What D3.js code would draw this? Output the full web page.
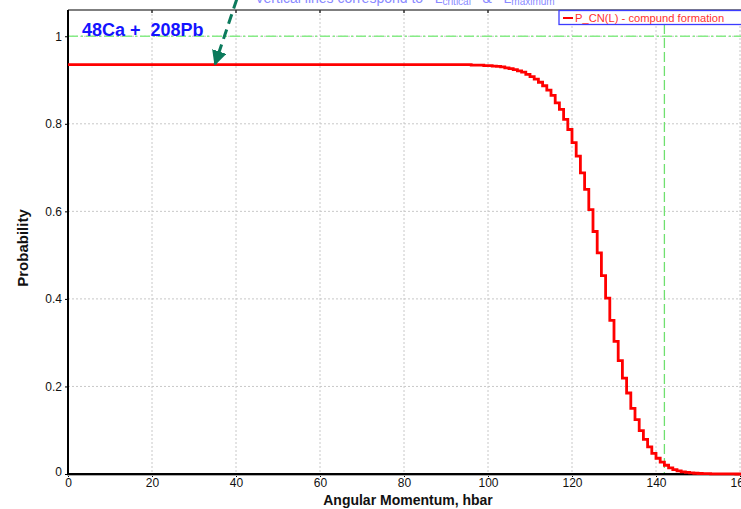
<!DOCTYPE html>
<html>
<head>
<meta charset="utf-8">
<script src="https://cdn.jsdelivr.net/npm/d3@7"></script>
<style>
  body { margin: 0; background: #fff; }
  svg { display: block; font-family: "Liberation Sans", Arial, sans-serif; }
  .pre { white-space: pre; }
</style>
</head>
<body>
<div id="chart"></div>
<script>
// angular momentum L (hbar) and compound formation probability
let momentum = [0, 96, 99, 100, 101, 102, 103, 104, 105, 106, 107, 108, 109, 110, 111, 112, 113, 114, 115, 116, 117,
  118, 119, 120, 121, 122, 123, 124, 125, 126, 127, 128, 129, 130, 131, 132, 133, 134, 135, 136, 137, 138, 139,
  140, 141, 142, 143, 144, 145, 146, 147, 148, 149, 150, 151, 153, 156, 159, 165]
let probability = [0.935, 0.934, 0.933, 0.933, 0.932, 0.931, 0.930, 0.928, 0.926, 0.924, 0.921, 0.918, 0.913, 0.908, 0.902, 0.895, 0.887, 0.877, 0.865, 0.848, 0.833,
  0.810, 0.787, 0.757, 0.726, 0.688, 0.650, 0.604, 0.554, 0.505, 0.453, 0.402, 0.351, 0.303, 0.259, 0.219, 0.185, 0.150, 0.124, 0.099, 0.079, 0.062, 0.047,
  0.036, 0.027, 0.020, 0.014, 0.010, 0.007, 0.005, 0.0035, 0.0025, 0.0017, 0.0012, 0.0008, 0.0004, 0.0001, 0, 0]

let xTicks = [0, 20, 40, 60, 80, 100, 120, 140, 160]
let yTicks = [0, 0.2, 0.4, 0.6, 0.8, 1]
let yTickLabels = ["0", "0.2", "0.4", "0.6", "0.8", "1"]

let lCritical = 142
let maxLevel = 1
let reactionLabel = "48Ca +  208Pb"
let legendLabel = "P_CN(L) - compund formation"
let noteLabel = "Vertical lines correspond to   L"
// arrow annotation in data units [L, P]
let arrowFrom = [40.2, 1.085]
let arrowTo = [35, 0.936]

let width = 741
let height = 509
let margin = {left: 68, top: 10, bottom: 35}

let x = d3.scaleLinear().domain([0, 160]).range([margin.left, margin.left + 672])
let y = d3.scaleLinear().domain([0, 1.06]).range([height - margin.bottom, margin.top])

let svg = d3.select("#chart").append("svg")
  .attr("width", width)
  .attr("height", height)

let defs = svg.append("defs")
defs.append("marker")
  .attr("id", "arrowhead")
  .attr("viewBox", "0 0 10 10")
  .attr("refX", 9)
  .attr("refY", 5)
  .attr("markerWidth", 5)
  .attr("markerHeight", 5)
  .attr("markerUnits", "strokeWidth")
  .attr("orient", "auto")
  .append("path")
  .attr("d", "M0,0 L10,5 L0,10 Z")
  .attr("fill", "#0b7a5c")

let x0 = margin.left
let x1 = width + 30
let yTop = margin.top
let yBottom = height - margin.bottom

// grid
svg.append("g")
  .selectAll("line")
  .data(xTicks.filter(d => d > 0))
  .enter().append("line")
  .attr("x1", d => x(d)).attr("x2", d => x(d))
  .attr("y1", yTop).attr("y2", yBottom)
  .attr("stroke", "#c8c8c8")
  .attr("stroke-dasharray", "2,2")

svg.append("g")
  .selectAll("line")
  .data(yTicks.filter(d => d > 0))
  .enter().append("line")
  .attr("x1", x0).attr("x2", x1)
  .attr("y1", d => y(d)).attr("y2", d => y(d))
  .attr("stroke", "#c8c8c8")
  .attr("stroke-dasharray", "2,2")

// green reference lines
svg.append("line")
  .attr("x1", x0).attr("x2", x1)
  .attr("y1", y(maxLevel)).attr("y2", y(maxLevel))
  .attr("stroke", "#86ec86")
  .attr("stroke-width", 1.3)
  .attr("stroke-dasharray", "10,3,2,3")

svg.append("line")
  .attr("x1", x(lCritical)).attr("x2", x(lCritical))
  .attr("y1", yTop).attr("y2", yBottom)
  .attr("stroke", "#6fe06f")
  .attr("stroke-width", 1.3)
  .attr("stroke-dasharray", "10,4")

// frame top
svg.append("line")
  .attr("x1", x0).attr("x2", x1)
  .attr("y1", yTop).attr("y2", yTop)
  .attr("stroke", "#555")
  .attr("stroke-width", 1.5)

svg.append("g")
  .selectAll("line")
  .data(xTicks.filter(d => d > 0))
  .enter().append("line")
  .attr("x1", d => x(d)).attr("x2", d => x(d))
  .attr("y1", yTop).attr("y2", yTop + 3)
  .attr("stroke", "#333")
  .attr("stroke-width", 1.5)

// axes
let xAxis = svg.append("g")
  .attr("transform", "translate(0," + yBottom + ")")
  .call(d3.axisBottom(x).tickValues(xTicks).tickSize(3).tickFormat(d3.format("d")))
xAxis.select(".domain").remove()
xAxis.selectAll("text").attr("font-size", 12).attr("fill", "#111").attr("dy", "0.6em")
  .attr("font-family", "Liberation Sans, Arial, sans-serif")

let yAxis = svg.append("g")
  .attr("transform", "translate(" + x0 + ",0)")
  .call(d3.axisLeft(y).tickValues(yTicks).tickSize(3).tickFormat((d, i) => yTickLabels[i]))
yAxis.select(".domain").remove()
yAxis.selectAll("text").attr("font-size", 12).attr("fill", "#111")
  .attr("font-family", "Liberation Sans, Arial, sans-serif")
yAxis.selectAll("text").filter(d => d === 0).attr("dy", "0.1em")

svg.append("line")
  .attr("x1", x0).attr("x2", x0)
  .attr("y1", yTop).attr("y2", yBottom + 1)
  .attr("stroke", "#000")
  .attr("stroke-width", 2)

svg.append("line")
  .attr("x1", x0 - 1).attr("x2", x1)
  .attr("y1", yBottom + 1.5).attr("y2", yBottom + 1.5)
  .attr("stroke", "#aaa")
  .attr("stroke-width", 1)
svg.append("line")
  .attr("x1", x0 - 1).attr("x2", x1)
  .attr("y1", yBottom).attr("y2", yBottom)
  .attr("stroke", "#000")
  .attr("stroke-width", 2)

// curve
let line = d3.line()
  .x((d, i) => x(momentum[i]))
  .y(d => y(d))
  .curve(d3.curveStepAfter)

svg.append("path")
  .datum(probability)
  .attr("d", line)
  .attr("fill", "none")
  .attr("stroke", "#ff0000")
  .attr("stroke-width", 2.8)

// labels
svg.append("text")
  .attr("x", 408)
  .attr("y", 505)
  .attr("text-anchor", "middle")
  .attr("font-size", 14)
  .attr("font-weight", "bold")
  .attr("fill", "#111")
  .text("Angular Momentum, hbar")

svg.append("text")
  .attr("transform", "translate(28,248) rotate(-90)")
  .attr("text-anchor", "middle")
  .attr("font-size", 15)
  .attr("font-weight", "bold")
  .attr("fill", "#111")
  .text("Probability")

svg.append("text")
  .attr("class", "pre")
  .attr("x", 82)
  .attr("y", 36)
  .attr("font-size", 18)
  .attr("font-weight", "bold")
  .attr("fill", "#1414ff")
  .text(reactionLabel)

// cut-off note at the top
let note = svg.append("text")
  .attr("class", "pre")
  .attr("x", 255)
  .attr("y", 3)
  .attr("font-size", 14)
  .attr("fill", "#8a8aff")
note.append("tspan").text(noteLabel)
note.append("tspan").attr("font-size", 10).attr("dy", 2).text("critical")
note.append("tspan").attr("dy", -2).text("   &   L")
note.append("tspan").attr("font-size", 10).attr("dy", 2).text("maximum")

// legend
svg.append("rect")
  .attr("x", 559).attr("y", 10.5)
  .attr("width", 200).attr("height", 14)
  .attr("fill", "#fff")
  .attr("stroke", "#3c3cff")
  .attr("stroke-width", 1.3)
svg.append("line")
  .attr("x1", 563).attr("x2", 573)
  .attr("y1", 18).attr("y2", 18)
  .attr("stroke", "#ff0000")
  .attr("stroke-width", 2)
svg.append("text")
  .attr("x", 575).attr("y", 21.5)
  .attr("font-size", 11.2)
  .attr("fill", "#ff3030")
  .text(legendLabel)

// arrow
svg.append("line")
  .attr("x1", x(arrowFrom[0])).attr("y1", y(arrowFrom[1]))
  .attr("x2", x(arrowTo[0])).attr("y2", y(arrowTo[1]))
  .attr("stroke", "#0b7a5c")
  .attr("stroke-width", 3)
  .attr("stroke-dasharray", "10,6")
  .attr("marker-end", "url(#arrowhead)")
</script>
</body>
</html>
